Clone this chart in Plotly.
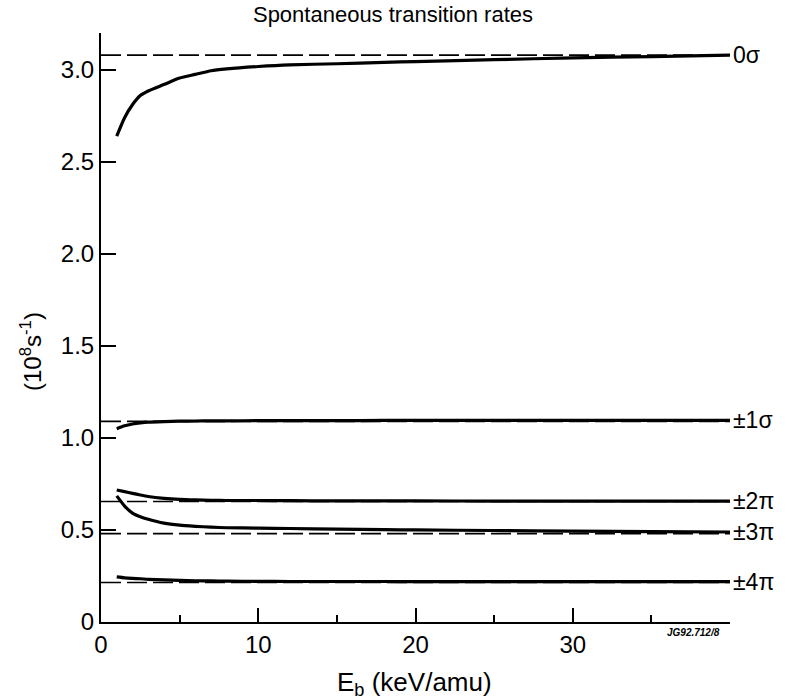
import plotly.graph_objects as go

# ---- data ----
energy = [1, 1.5, 2, 2.5, 3, 4, 5, 6, 7, 8, 10, 12, 15, 18, 20, 25, 30, 35, 40]

rate_0sigma = [2.64, 2.74, 2.81, 2.86, 2.885, 2.92, 2.955, 2.975, 2.995, 3.005,
               3.018, 3.027, 3.033, 3.04, 3.045, 3.055, 3.065, 3.072, 3.08]
rate_1sigma = [1.05, 1.066, 1.076, 1.082, 1.086, 1.089, 1.091, 1.092, 1.093, 1.093,
               1.094, 1.094, 1.094, 1.095, 1.095, 1.095, 1.095, 1.095, 1.095]
rate_2pi = [0.717, 0.708, 0.699, 0.69, 0.682, 0.672, 0.666, 0.663, 0.661, 0.66,
            0.66, 0.659, 0.658, 0.658, 0.658, 0.657, 0.657, 0.657, 0.657]
rate_3pi = [0.685, 0.63, 0.592, 0.572, 0.558, 0.537, 0.526, 0.52, 0.515, 0.512,
            0.51, 0.508, 0.505, 0.502, 0.5, 0.497, 0.494, 0.491, 0.489]
rate_4pi = [0.245, 0.24, 0.237, 0.235, 0.232, 0.229, 0.226, 0.224, 0.223, 0.222,
            0.221, 0.22, 0.22, 0.22, 0.219, 0.219, 0.219, 0.219, 0.219]

series_labels = ["0σ", "±1σ", "±2π", "±3π", "±4π"]
asymptote_values = [3.08, 1.09, 0.655, 0.48, 0.215]

x_range = [0, 40]
x_ticks = [0, 10, 20, 30]
x_minor_ticks = [5, 15, 25, 35]
y_ticks = [0, 0.5, 1.0, 1.5, 2.0, 2.5, 3.0]
y_tick_text = ["0", "0.5", "1.0", "1.5", "2.0", "2.5", "3.0"]

title_text = "Spontaneous transition rates"
x_title = "E<sub>b</sub> (keV/amu)"
y_title = "(10<sup>8</sup>s<sup>-1</sup>)"
code_text = "JG92.712/8"

FONT = "Liberation Sans, Arial, Helvetica, sans-serif"

fig = go.Figure()

# dashed asymptotes
for v in asymptote_values:
    fig.add_trace(go.Scatter(x=x_range, y=[v, v], mode="lines",
                             line=dict(color="black", width=1.6, dash="20px,6px"),
                             hoverinfo="skip", showlegend=False))

series = [rate_0sigma, rate_1sigma, rate_2pi, rate_3pi, rate_4pi]
for vals in series:
    fig.add_trace(go.Scatter(x=energy, y=vals, mode="lines",
                             line=dict(color="black", width=3.2, shape="spline", smoothing=0.6),
                             showlegend=False))

# curve labels at the right end
for lab, vals in zip(series_labels, series):
    fig.add_annotation(x=energy[-1], y=vals[-1], xref="x", yref="y", text=lab,
                       showarrow=False, xanchor="left", yanchor="middle", xshift=1,
                       font=dict(family=FONT, size=23, color="black"))

# axis titles
fig.add_annotation(x=(31 - 101) / 629, y=(622 - 352) / 589, xref="paper", yref="paper",
                   text=y_title, textangle=-90, showarrow=False,
                   xanchor="center", yanchor="middle",
                   font=dict(family=FONT, size=24, color="black"))
fig.add_annotation(x=(414 - 101) / 629, y=(622 - 683) / 589, xref="paper", yref="paper",
                   text=x_title, showarrow=False, xanchor="center", yanchor="middle",
                   font=dict(family=FONT, size=26, color="black"))
fig.add_annotation(x=37.7, y=(622 - 632) / 589, xref="x", yref="paper",
                   text="<b><i>" + code_text + "</i></b>", showarrow=False,
                   xanchor="center", yanchor="middle",
                   font=dict(family=FONT, size=10, color="black"))

fig.update_layout(
    width=786, height=700,
    margin=dict(l=101, r=56, t=33, b=78),
    paper_bgcolor="white", plot_bgcolor="white",
    title=dict(text=title_text, x=0.5, xref="container", xanchor="center",
               y=1 - 14 / 700, yref="container", yanchor="middle",
               font=dict(family=FONT, size=22, color="black")),
    font=dict(family=FONT, size=22, color="black"),
    xaxis=dict(range=x_range, showgrid=False, zeroline=False,
               showline=True, linecolor="black", linewidth=2,
               tickmode="array", tickvals=x_ticks, ticks="inside", ticklen=14,
               tickwidth=2, tickcolor="black",
               tickfont=dict(family=FONT, size=24, color="black"),
               minor=dict(tickmode="array", tickvals=x_minor_ticks, ticks="inside",
                          ticklen=7, tickwidth=1.5, tickcolor="black")),
    yaxis=dict(range=[0, 3.2], showgrid=False, zeroline=False,
               showline=True, linecolor="black", linewidth=2,
               tickmode="array", tickvals=y_ticks, ticktext=y_tick_text,
               ticks="inside", ticklen=15, tickwidth=2, tickcolor="black",
               tickfont=dict(family=FONT, size=24, color="black")),
)

fig.write_html("out.html")
